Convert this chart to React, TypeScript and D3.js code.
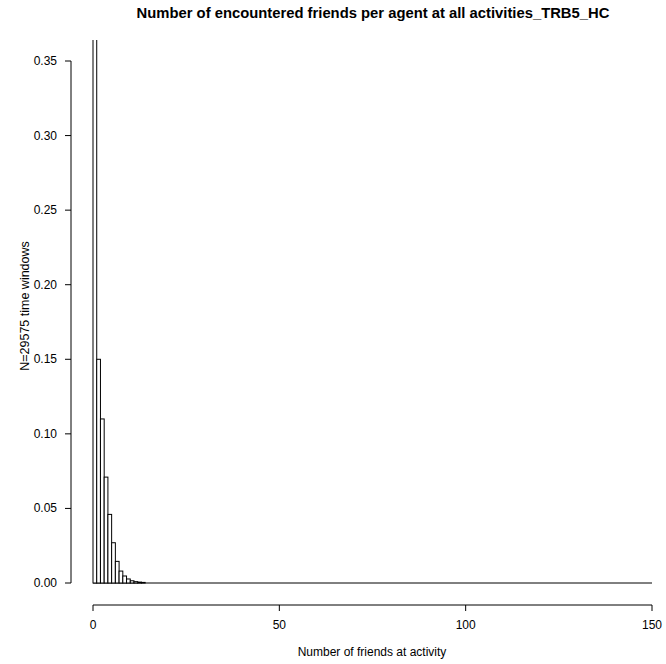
import React from "react";
import * as d3 from "d3";

const binStarts = [0, 1, 2, 3, 4, 5, 6, 7, 8, 9, 10, 11, 12, 13];
const densities = [0.56, 0.15, 0.11, 0.071, 0.046, 0.027, 0.0145, 0.008, 0.0047, 0.0027, 0.0015, 0.0009, 0.0006, 0.0004];
const xTicks = [0, 50, 100, 150];
const yTicks = [0, 0.05, 0.1, 0.15, 0.2, 0.25, 0.3, 0.35];
const title = "Number of encountered friends per agent at all activities_TRB5_HC";
const xLabel = "Number of friends at activity";
const yLabel = "N=29575 time windows";

const W = 666;
const H = 664;

export default function App() {
  const x = d3.scaleLinear().domain([0, 150]).range([93, 652]);
  const y = d3.scaleLinear().domain([0, 0.35]).range([583, 61]);
  const font = "'Liberation Sans', Arial, sans-serif";
  const plotTop = 40;
  const xAxisY = 605;
  const yAxisX = 71;

  return (
    <svg
      width={W}
      height={H}
      style={{ position: "absolute", left: 0, top: 0, background: "#fff" }}
      fontFamily={font}
    >
      <defs>
        <clipPath id="plotclip">
          <rect x={60} y={plotTop} width={620} height={580} />
        </clipPath>
      </defs>
      <rect x={0} y={0} width={W} height={H} fill="#fff" />
      <text x={373} y={18} textAnchor="middle" fontSize={14.8} fontWeight="bold" fill="#000">
        {title}
      </text>
      <g clipPath="url(#plotclip)">
        <line x1={x(0)} x2={x(150)} y1={y(0)} y2={y(0)} stroke="#000" strokeWidth={1} />
        {binStarts.map((b, i) => (
          <rect
            key={b}
            x={x(b)}
            y={y(densities[i])}
            width={x(b + 1) - x(b)}
            height={y(0) - y(densities[i])}
            fill="#fff"
            stroke="#000"
            strokeWidth={1}
          />
        ))}
      </g>
      {/* x axis */}
      <line x1={x(0)} x2={x(150)} y1={xAxisY} y2={xAxisY} stroke="#000" />
      {xTicks.map((t) => (
        <g key={t}>
          <line x1={x(t)} x2={x(t)} y1={xAxisY} y2={xAxisY + 6} stroke="#000" />
          <text x={x(t)} y={629} textAnchor="middle" fontSize={12} fill="#000">
            {t}
          </text>
        </g>
      ))}
      <text x={372} y={656} textAnchor="middle" fontSize={12} fill="#000">
        {xLabel}
      </text>
      {/* y axis */}
      <line x1={yAxisX} x2={yAxisX} y1={y(0)} y2={y(0.35)} stroke="#000" />
      {yTicks.map((t) => (
        <g key={t}>
          <line x1={yAxisX - 6} x2={yAxisX} y1={y(t)} y2={y(t)} stroke="#000" />
          <text x={57} y={y(t) + 4} textAnchor="end" fontSize={12} fill="#000">
            {d3.format(".2f")(t)}
          </text>
        </g>
      ))}
      <text
        transform={`translate(29, 306) rotate(-90)`}
        textAnchor="middle"
        fontSize={12.5}
        fill="#000"
      >
        {yLabel}
      </text>
    </svg>
  );
}
